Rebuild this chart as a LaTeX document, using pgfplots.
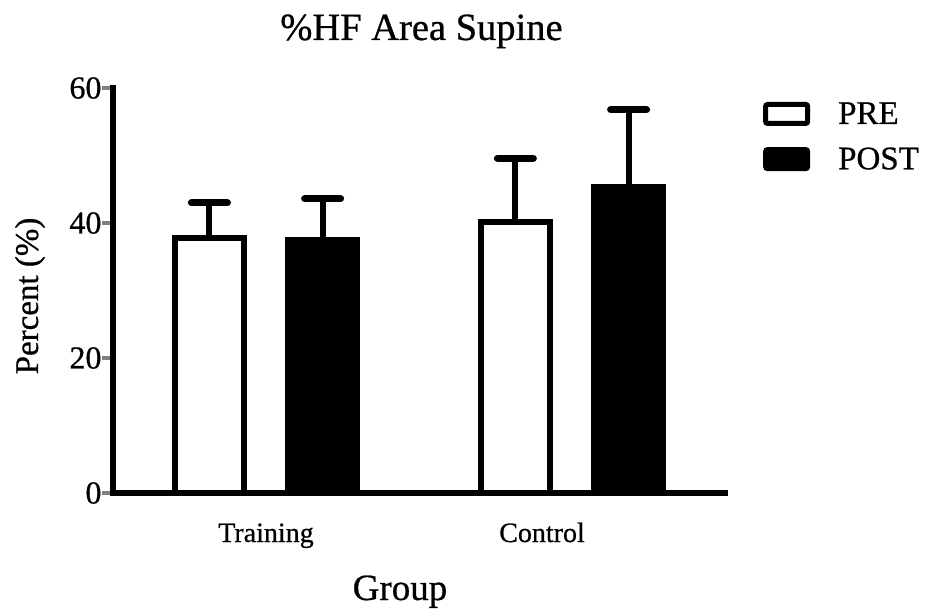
\documentclass[border=0pt]{standalone}
\usepackage{pgfplots}
\pgfplotsset{compat=1.18}
\usepackage{fontspec}
\setmainfont[UprightFeatures={FakeBold=0.7}]{Liberation Serif}
\begin{document}
\begin{tikzpicture}[x=1pt,y=1pt]
\path (0,0) rectangle (927,611);
\begin{axis}[
  at={(113pt,118pt)}, anchor=south west,
  width=612pt, height=405pt, scale only axis,
  xmin=-0.5, xmax=1.5, ymin=0, ymax=60,
  axis x line*=bottom, axis y line*=left,
  axis line style={line width=5.5pt, line cap=rect},
  xtick={0,0.902}, xticklabels={Training,Control},
  ytick={0,20,40,60},
  major x tick style={draw=none},
  major y tick style={line width=3.5pt},
  tick align=outside, major tick length=11pt,
  /pgf/number format/assume math mode=true,
  yticklabel style={font=\fontsize{32}{36}\selectfont, xshift=3pt},
  xticklabel style={font=\fontsize{28}{32}\selectfont, anchor=base, yshift=-38pt},
  ybar, bar width=0.2255, bar shift=0pt,
  clip=false,
  legend style={at={(1.062,0.97)}, anchor=north west, draw=none, fill=none,
    inner sep=0pt, font=\fontsize{33}{37}\selectfont, row sep=18pt,
    legend cell align=left},
  legend image code/.code={\draw[#1, line width=5pt, rounded corners=2pt] (0pt,-9.5pt) rectangle (42pt,9.5pt);},
]
\addplot[draw=black, fill=white, line width=6pt,
  error bars/.cd, y dir=plus, y explicit,
  error bar style={line width=6pt},
  error mark options={rotate=90, line width=7pt, mark size=18pt, line cap=round}]
  coordinates {(-0.185,37.8) +- (0,5.2) (0.815,40.2) +- (0,9.4)};
\addlegendentry{\hspace{26pt}PRE}
\addplot[draw=black, fill=black, line width=6pt,
  error bars/.cd, y dir=plus, y explicit,
  error bar style={line width=6pt},
  error mark options={rotate=90, line width=7pt, mark size=18pt, line cap=round}]
  coordinates {(0.185,37.5) +- (0,6.1) (1.185,45.4) +- (0,11.4)};
\addlegendentry{\hspace{26pt}POST}
\end{axis}
\node[anchor=base] at (421.5pt,571pt) {\fontsize{38.5}{42}\selectfont \%HF Area Supine};
\node[rotate=90] at (30pt,315pt) {\fontsize{33}{36}\selectfont Percent (\%)};
\node[anchor=base] at (400pt,11pt) {\fontsize{37}{40}\selectfont Group};
\end{tikzpicture}
\end{document}
